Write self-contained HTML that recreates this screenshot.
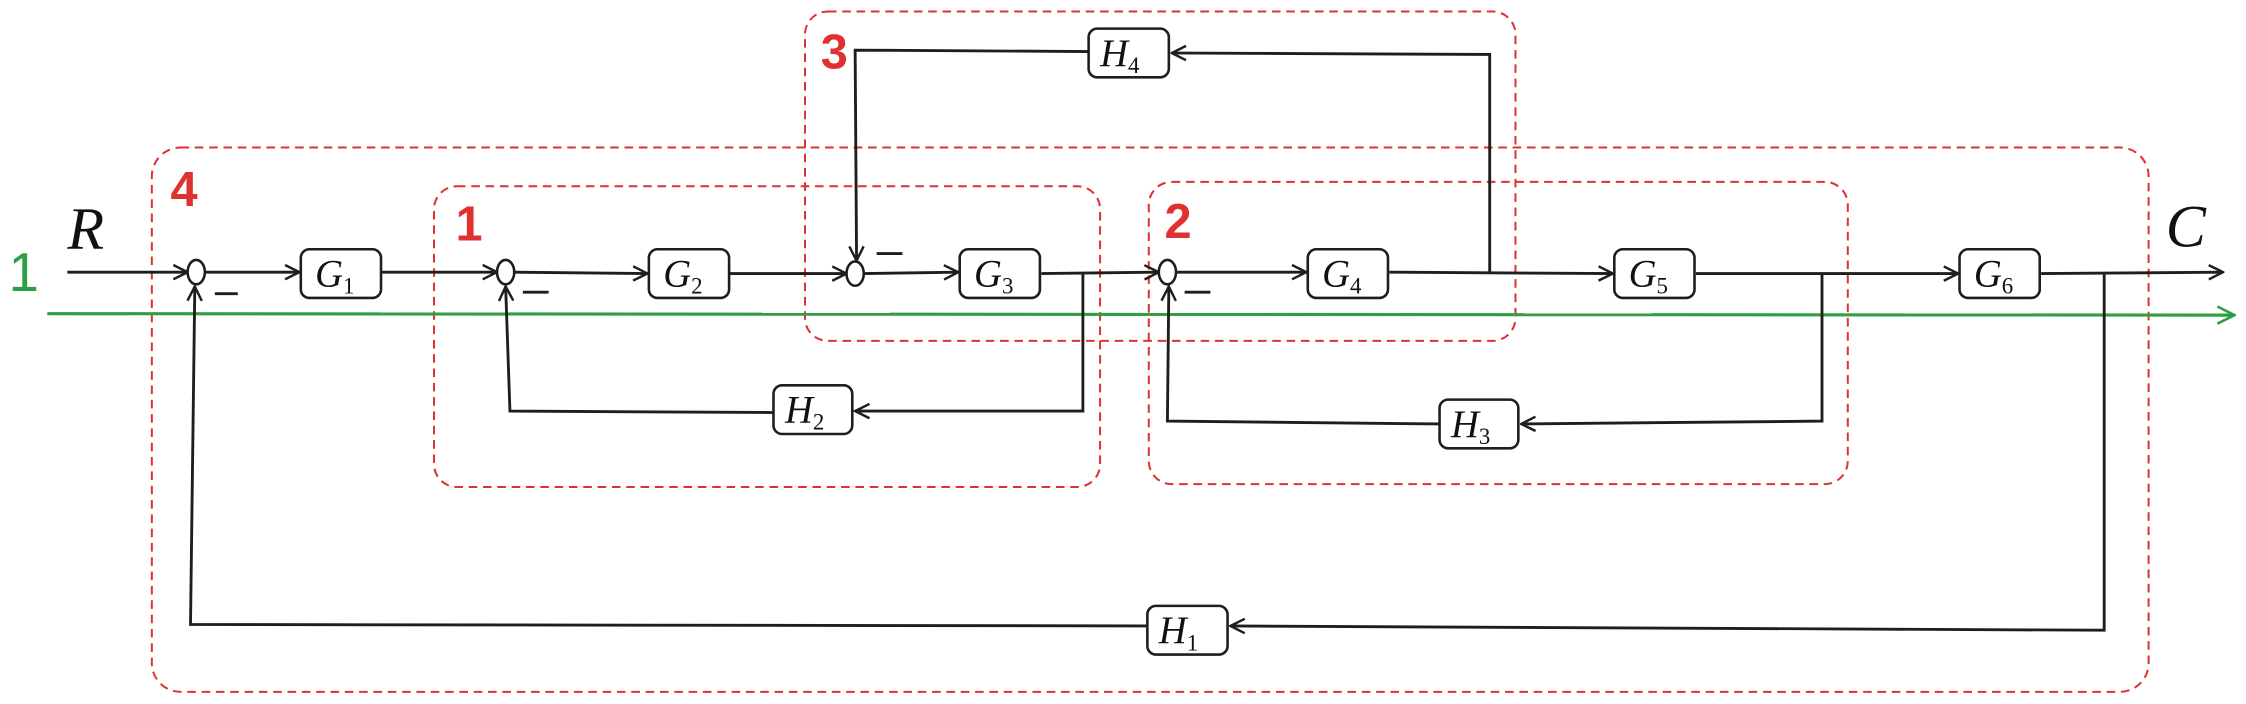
<!DOCTYPE html>
<html><head><meta charset="utf-8"><style>
html,body{margin:0;padding:0;background:#fff;}
svg{display:block;}
.blk{fill:#fff;stroke:#1e1e1e;stroke-width:1.8;}
.ln{stroke:#1e1e1e;stroke-width:2;fill:none;}
.rd{stroke:#e03131;stroke-width:1.4;fill:none;stroke-dasharray:6 4;}
.lab{font-family:"Liberation Serif",serif;font-style:italic;font-size:27px;fill:#111;}
.sub{font-family:"Liberation Serif",serif;font-style:normal;font-size:16px;fill:#111;}
.num{font-family:"Liberation Sans",sans-serif;font-size:34px;fill:#e03131;font-weight:bold;}
</style></head><body>
<svg width="2246" height="704" viewBox="0 0 1568 491.5" preserveAspectRatio="none" xmlns="http://www.w3.org/2000/svg">
<defs>
<marker id="a" viewBox="0 0 12 12" refX="11" refY="6" markerWidth="12" markerHeight="12" markerUnits="userSpaceOnUse" orient="auto">
<path d="M1,1 L11,6 L1,11" fill="none" stroke="#1e1e1e" stroke-width="1.7"/></marker>
<marker id="g" viewBox="0 0 14 14" refX="13" refY="7" markerWidth="14" markerHeight="14" markerUnits="userSpaceOnUse" orient="auto">
<path d="M1,1 L13,7 L1,13" fill="none" stroke="#2f9e44" stroke-width="1.8"/></marker>
</defs>
<rect class="rd" x="106" y="103" width="1394" height="380" rx="20"/>
<rect class="rd" x="303" y="130" width="465" height="210" rx="16"/>
<rect class="rd" x="562" y="8" width="496" height="230" rx="16"/>
<rect class="rd" x="802" y="127" width="488" height="211" rx="16"/>
<text class="num" x="119" y="144" font-size="30">4</text>
<text class="num" x="318" y="168">1</text>
<text class="num" x="573" y="48">3</text>
<text class="num" x="813" y="166">2</text>
<line x1="33" y1="219" x2="1560" y2="220" stroke="#2f9e44" stroke-width="2.2" marker-end="url(#g)"/>
<text x="6" y="203" font-family="Liberation Sans,sans-serif" font-size="38" fill="#2f9e44">1</text>
<text x="47" y="174" font-family="Liberation Serif,serif" font-style="italic" font-size="42" fill="#111">R</text>
<text x="1512" y="172" font-family="Liberation Serif,serif" font-style="italic" font-size="42" fill="#111">C</text>
<line class="ln" x1="47" y1="190" x2="131" y2="190" marker-end="url(#a)"/>
<line class="ln" x1="143" y1="190" x2="209" y2="190" marker-end="url(#a)"/>
<line class="ln" x1="266" y1="190" x2="347" y2="190" marker-end="url(#a)"/>
<line class="ln" x1="359" y1="190" x2="452" y2="191" marker-end="url(#a)"/>
<line class="ln" x1="509" y1="191" x2="591" y2="191" marker-end="url(#a)"/>
<line class="ln" x1="603" y1="191" x2="669" y2="190" marker-end="url(#a)"/>
<line class="ln" x1="727" y1="191" x2="809" y2="190" marker-end="url(#a)"/>
<line class="ln" x1="821" y1="190" x2="912" y2="190" marker-end="url(#a)"/>
<line class="ln" x1="970" y1="190" x2="1126" y2="191" marker-end="url(#a)"/>
<line class="ln" x1="1184" y1="191" x2="1367" y2="191" marker-end="url(#a)"/>
<line class="ln" x1="1425" y1="191" x2="1552" y2="190" stroke-width="2.6" marker-end="url(#a)"/>
<polyline class="ln" points="756,191 756,287 597,287" marker-end="url(#a)"/>
<polyline class="ln" points="540,288 356,287 353,200" marker-end="url(#a)"/>
<polyline class="ln" points="1040,190 1040,38 818,37" marker-end="url(#a)"/>
<polyline class="ln" points="760,36 597,35 598,182" marker-end="url(#a)"/>
<polyline class="ln" points="1272,191 1272,294 1062,296" marker-end="url(#a)"/>
<polyline class="ln" points="1005,296 815,294 816,200" marker-end="url(#a)"/>
<polyline class="ln" points="1469,191 1469,440 859,437" marker-end="url(#a)"/>
<polyline class="ln" points="801,437 133,436 136,200" marker-end="url(#a)"/>
<ellipse class="blk" cx="137" cy="190" rx="6" ry="8.5"/>
<ellipse class="blk" cx="353" cy="190" rx="6" ry="8.5"/>
<ellipse class="blk" cx="597" cy="191" rx="6" ry="8.5"/>
<ellipse class="blk" cx="815" cy="190" rx="6" ry="8.5"/>
<g class="ln" stroke-width="2"><line x1="150" y1="205" x2="166" y2="205"/><line x1="365" y1="204" x2="383" y2="204"/><line x1="612" y1="177" x2="630" y2="177"/><line x1="827" y1="204" x2="845" y2="204"/></g>
<rect class="blk" x="210" y="174" width="56" height="34" rx="6"/><text class="lab" x="220" y="200">G<tspan class="sub" dy="5">1</tspan></text>
<rect class="blk" x="453" y="174" width="56" height="34" rx="6"/><text class="lab" x="463" y="200">G<tspan class="sub" dy="5">2</tspan></text>
<rect class="blk" x="670" y="174" width="56" height="34" rx="6"/><text class="lab" x="680" y="200">G<tspan class="sub" dy="5">3</tspan></text>
<rect class="blk" x="913" y="174" width="56" height="34" rx="6"/><text class="lab" x="923" y="200">G<tspan class="sub" dy="5">4</tspan></text>
<rect class="blk" x="1127" y="174" width="56" height="34" rx="6"/><text class="lab" x="1137" y="200">G<tspan class="sub" dy="5">5</tspan></text>
<rect class="blk" x="1368" y="174" width="56" height="34" rx="6"/><text class="lab" x="1378" y="200">G<tspan class="sub" dy="5">6</tspan></text>
<rect class="blk" x="760" y="20" width="56" height="34" rx="6"/><text class="lab" x="768" y="46">H<tspan class="sub" dy="5">4</tspan></text>
<rect class="blk" x="540" y="269" width="55" height="34" rx="6"/><text class="lab" x="548" y="295">H<tspan class="sub" dy="5">2</tspan></text>
<rect class="blk" x="1005" y="279" width="55" height="34" rx="6"/><text class="lab" x="1013" y="305">H<tspan class="sub" dy="5">3</tspan></text>
<rect class="blk" x="801" y="423" width="56" height="34" rx="6"/><text class="lab" x="809" y="449">H<tspan class="sub" dy="5">1</tspan></text>
</svg>
</body></html>
